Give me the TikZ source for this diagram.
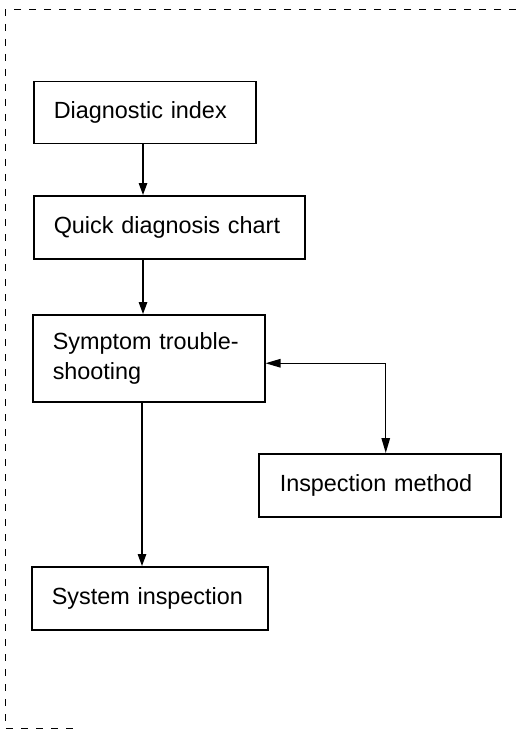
\documentclass[tikz,border=0pt]{standalone}
\usepackage{fontspec}
\setmainfont{Liberation Sans}
\usetikzlibrary{arrows.meta}
\begin{document}
\begin{tikzpicture}[x=1pt,y=-1pt,
  box/.style={draw,line width=1.5pt,anchor=north west,inner xsep=20pt,inner ysep=0pt,
    align=left,font=\fontsize{23.4}{30}\selectfont},
  arr/.style={line width=1.3pt,-{Triangle[length=12pt,width=8.5pt]}},
  biarr/.style={line width=1.3pt,{Triangle[length=15pt,width=8.5pt]}-{Triangle[length=15pt,width=8.5pt]}},
  frame/.style={line width=1pt,dash pattern=on 7pt off 8pt}]
\useasboundingbox (0,0) rectangle (516,730);
\draw[frame] (516,10) -- (5,10) -- (5,728) -- (80,728);
\node[box,minimum width=222pt,minimum height=62pt,text width=182pt] (b1) at (33,81) {Diagnostic index};
\node[box,minimum width=271pt,minimum height=63pt,text width=231pt] (b2) at (33,195) {Quick diagnosis chart};
\node[box,minimum width=232pt,minimum height=87pt,text width=192pt] (b3) at (32,314) {Symptom trouble-\\shooting};
\node[box,minimum width=240pt,minimum height=63pt,text width=200pt,inner xsep=21pt] (b4) at (258,453) {Inspection method};
\node[box,minimum width=236pt,minimum height=63pt,text width=196pt] (b5) at (31,566) {System inspection};
\coordinate (cx) at (143,0);
\draw[arr] (cx |- b1.south) -- (cx |- b2.north);
\draw[arr] (cx |- b2.south) -- (cx |- b3.north);
\draw[arr] ([xshift=-1pt]cx |- b3.south) -- ([xshift=-1pt]cx |- b5.north);
\draw[biarr] ([yshift=-5pt]b3.east) -| ([xshift=6pt]b4.north);
\end{tikzpicture}
\end{document}
